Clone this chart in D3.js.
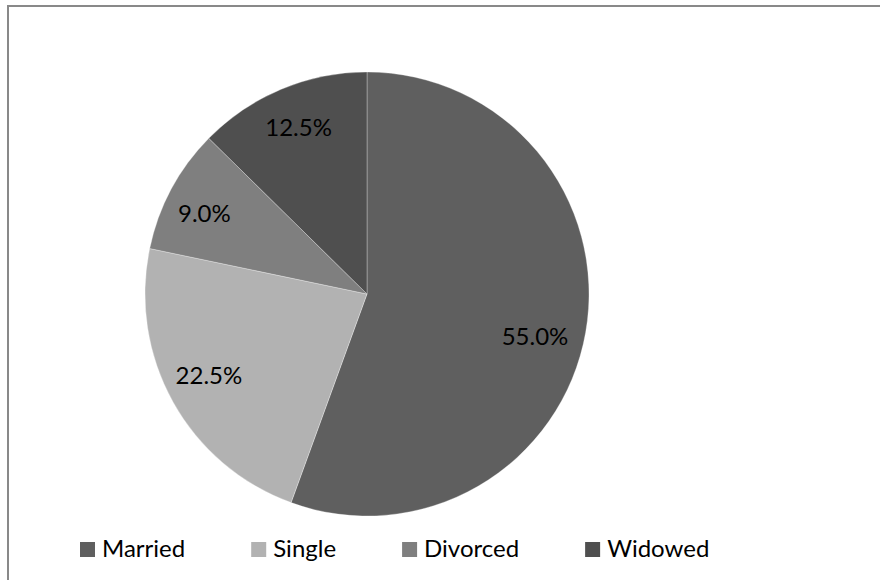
<!DOCTYPE html>
<html>
<head>
<meta charset="utf-8">
<script src="https://cdn.jsdelivr.net/npm/d3@7"></script>
<style>
  html, body { margin: 0; padding: 0; background: #fff; }
  svg { display: block; }
</style>
</head>
<body>
<svg id="chart" width="880" height="580"></svg>
<script>
// Marital status breakdown
const categories = ["Married", "Single", "Divorced", "Widowed"];
const values = [55.0, 22.5, 9.0, 12.5];
const colors = ["#5f5f5f", "#b2b2b2", "#7f7f7f", "#4f4f4f"];

const cx = 367, cy = 294, R = 222;
const FONT = "Lato, 'Open Sans', sans-serif";

const svg = d3.select("#chart");

// chart area frame
svg.append("rect")
  .attr("x", 8).attr("y", 6)
  .attr("width", 900).attr("height", 600)
  .attr("fill", "none")
  .attr("stroke", "#898989")
  .attr("stroke-width", 2);

const data = categories.map((c, i) => ({ name: c, value: values[i], color: colors[i] }));

const pie = d3.pie().value(d => d.value).sort(null);
const arcs = pie(data);
const arc = d3.arc().innerRadius(0).outerRadius(R);

const g = svg.append("g").attr("transform", `translate(${cx},${cy})`);

g.selectAll("path.slice")
  .data(arcs)
  .join("path")
  .attr("class", "slice")
  .attr("d", arc)
  .attr("fill", d => d.data.color)
  .attr("stroke", "#ffffff")
  .attr("stroke-opacity", 0.3)
  .attr("stroke-width", 1);

// best-fit label placement: radius fraction and angular nudge (degrees)
const labelFit = {
  Married:  { k: 0.78, da: 4 },
  Single:   { k: 0.80, da: 2 },
  Divorced: { k: 0.82, da: -1.5 },
  Widowed:  { k: 0.815, da: 0.5 }
};

g.selectAll("text.pct")
  .data(arcs)
  .join("text")
  .attr("class", "pct")
  .attr("transform", d => {
    const fit = labelFit[d.data.name];
    const a = (d.startAngle + d.endAngle) / 2 + fit.da * Math.PI / 180;
    const r = R * fit.k;
    return `translate(${Math.sin(a) * r},${-Math.cos(a) * r})`;
  })
  .attr("text-anchor", "middle")
  .attr("dominant-baseline", "central")
  .attr("font-family", FONT)
  .attr("font-size", 24)
  .attr("fill", "#000")
  .text(d => d.data.value.toFixed(1) + "%");

// legend along the bottom
const legend = svg.append("g");
let lx = 80;
const ly = 542, sw = 15, gapText = 7, gapItem = 66;
data.forEach(d => {
  legend.append("rect")
    .attr("x", lx).attr("y", ly)
    .attr("width", sw).attr("height", sw)
    .attr("fill", d.color);
  const t = legend.append("text")
    .attr("x", lx + sw + gapText)
    .attr("y", ly + sw)
    .attr("font-family", FONT)
    .attr("font-size", 24)
    .attr("fill", "#000")
    .text(d.name);
  const w = t.node().getComputedTextLength();
  lx = lx + sw + gapText + w + gapItem;
});
</script>
</body>
</html>
